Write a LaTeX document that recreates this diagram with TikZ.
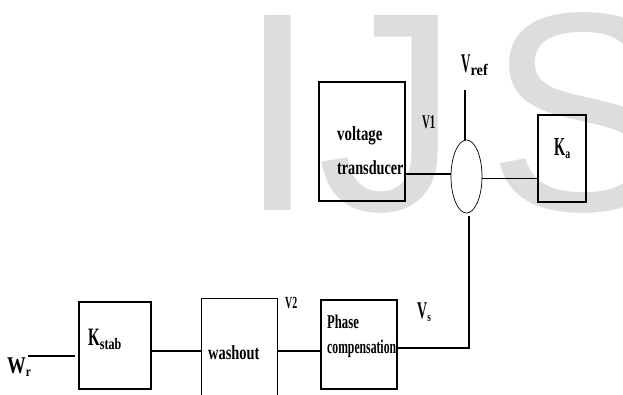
\documentclass[tikz,border=0pt]{standalone}
\usepackage{fontspec}
\usepackage{graphicx}
\setmainfont{Liberation Serif}
\newfontfamily\wmfont{Liberation Sans}
\usetikzlibrary{shapes.geometric}
\definecolor{wmgray}{RGB}{221,221,221}
\newcommand\sq[3]{{\fontsize{#1}{#1}\selectfont\bfseries\scalebox{#2}[1]{#3}}}
\begin{document}
\begin{tikzpicture}[x=1pt,y=-1pt,
  blk/.style={draw, line width=1.1pt, inner sep=0pt},
  ln/.style={line width=1.1pt},
  txt/.style={inner sep=0pt, anchor=base west},
  wm/.style={inner sep=0pt, anchor=base west, text=wmgray, font=\wmfont\fontsize{283.5}{283.5}\selectfont}]
\useasboundingbox (0,0) rectangle (623,394);
\clip (0,0) rectangle (623,394);
% watermark
\node[wm] (wI) at (238,210) {I};
\node[wm] (wJ) at (317,210) {J};
\node[wm] (wS) at (487,210) {S};
% blocks
\node[blk, minimum width=86pt, minimum height=119pt] (vt) at (362,141.5) {};
\node[blk, minimum width=48pt, minimum height=87pt] (ka) at (562,158.5) {};
\node[blk, minimum width=72pt, minimum height=87pt] (ks) at (115,345.5) {};
\node[blk, minimum width=76pt, minimum height=89pt] (pc) at (359,344.5) {};
\node[inner sep=0pt, minimum width=75pt, minimum height=101pt] (wo) at (239.5,349.5) {};
\draw[ln] (wo.south west) -- (wo.north west) -- (wo.north east) -- (wo.south east);
\node[draw, ellipse, line width=0.7pt, inner sep=0pt, minimum width=31pt, minimum height=73pt] (sum) at (466.5,176.5) {};
% texts
\node[txt] (t1) at (337,140) {\sq{20}{0.74}{voltage}};
\node[txt] (t2) at (337,174) {\sq{20}{0.71}{transducer}};
\node[txt] (lv1) at (422,128) {\sq{19.5}{0.55}{V1}};
\node[txt] (lvref) at (461,72) {\sq{27}{0.48}{V}\sq{16}{0.9}{\raisebox{-3pt}{ref}}};
\node[txt] (tka) at (554,155) {\sq{26}{0.55}{K}\sq{14}{0.7}{\raisebox{-3pt}{a}}};
\node[txt] (tp1) at (327,328) {\sq{19.5}{0.65}{Phase}};
\node[txt] (tp2) at (327,353) {\sq{19.5}{0.6}{compensation}};
\node[txt] (lvs) at (417,318) {\sq{24}{0.58}{V}\sq{13}{0.7}{\raisebox{-3pt}{s}}};
\node[txt] (lv2) at (285,308) {\sq{17}{0.58}{V2}};
\node[txt] (two) at (208,359) {\sq{20}{0.72}{washout}};
\node[txt] (tks) at (88,345) {\sq{25}{0.6}{K}\sq{16}{0.75}{\raisebox{-4pt}{stab}}};
\node[txt] (lwr) at (7,373) {\sq{24}{0.78}{W}\sq{14}{0.8}{\raisebox{-3pt}{r}}};
% connectors
\coordinate (vrefend) at (465,90);
\coordinate (wrA) at (28,356);
\coordinate (r1) at (0,351);
\coordinate (cnr) at (469,348);
\draw[ln] (vrefend) -- (vrefend |- sum.north);
\draw[ln] (sum.171) -- (sum.171 -| vt.east);
\draw[ln] (sum.354) -- (sum.354 -| ka.west);
\draw[ln, shorten >=3.5pt] (wrA) -- (wrA -| ks.west);
\draw[ln] (ks.east |- r1) -- (wo.west |- r1);
\draw[ln] (wo.east |- r1) -- (pc.west |- r1);
\draw[ln, shorten >=3pt] (pc.east |- cnr) -- (cnr) -- (cnr |- sum.south);
\end{tikzpicture}
\end{document}
